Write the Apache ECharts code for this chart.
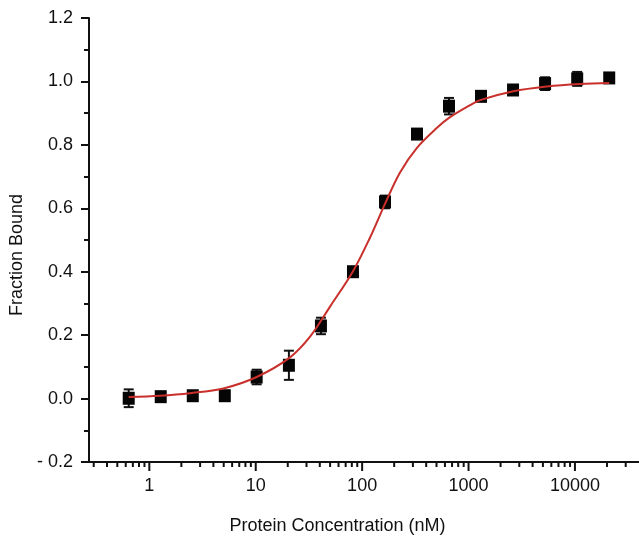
<!DOCTYPE html>
<html>
<head>
<meta charset="utf-8">
<script src="https://cdn.jsdelivr.net/npm/echarts@6/dist/echarts.min.js"></script>
<style>html,body{margin:0;padding:0;background:#fff;}#chart{width:639px;height:540px;}</style>
</head>
<body>
<div id="chart"></div>
<script>
// ---- data ----
const conc = [0.64, 1.28, 2.56, 5.12, 10.2, 20.5, 41, 82, 164, 328, 655, 1310, 2620, 5240, 10500, 21000];
const fraction = [0.001, 0.006, 0.009, 0.009, 0.068, 0.105, 0.229, 0.40, 0.62, 0.834, 0.922, 0.953, 0.973, 0.993, 1.008, 1.011];
const fractionErr = [0.028, 0.005, 0.005, 0.004, 0.023, 0.046, 0.026, 0.008, 0.02, 0.012, 0.026, 0.008, 0.012, 0.02, 0.022, 0.015];

const fitConc = [0.64, 1.26, 2.41, 4.97, 10.2, 21.0, 32.4, 49.9, 81.6, 118.7, 164, 227, 326, 502, 655, 1033, 1283, 2637, 5430, 11170, 21000];
const fitFraction = [0.005, 0.009, 0.017, 0.032, 0.068, 0.13, 0.195, 0.29, 0.40, 0.508, 0.614, 0.713, 0.79, 0.853, 0.885, 0.925, 0.941, 0.969, 0.984, 0.992, 0.995];

const xMajorTicks = [1, 10, 100, 1000, 10000];
const xMinorTicks = [0.3, 0.4, 0.5, 0.6, 0.7, 0.8, 0.9,
  2, 3, 4, 5, 6, 7, 8, 9,
  20, 30, 40, 50, 60, 70, 80, 90,
  200, 300, 400, 500, 600, 700, 800, 900,
  2000, 3000, 4000, 5000, 6000, 7000, 8000, 9000,
  20000, 30000];

const xTitle = 'Protein Concentration (nM)';
const yTitle = 'Fraction Bound';
const yMin = -0.2, yMax = 1.2, yStep = 0.2;
const xMin = 0.271, xMax = 40000;

// ---- chart ----
const FONT = 'Liberation Sans, Arial, Helvetica, sans-serif';
const INK = '#111111';
const chart = echarts.init(document.getElementById('chart'), null, {renderer: 'canvas'});

const tickData = xMajorTicks.map(v => [v, yMin, 1]).concat(xMinorTicks.map(v => [v, yMin, 0]));

chart.setOption({
  animation: false,
  backgroundColor: '#ffffff',
  grid: {left: 89, right: 0, top: 18, bottom: 72, containLabel: false},
  xAxis: {
    type: 'log', logBase: 10, min: xMin, max: xMax,
    name: xTitle, nameLocation: 'middle', nameGap: 55,
    nameTextStyle: {fontFamily: FONT, fontSize: 18, color: INK, padding: [0, 53, 0, 0]},
    axisLine: {show: true, onZero: false, lineStyle: {color: INK, width: 2}},
    axisTick: {show: false},
    minorTick: {show: false},
    splitLine: {show: false},
    axisLabel: {
      fontFamily: FONT, fontSize: 18, color: INK, margin: 15,
      showMinLabel: false, showMaxLabel: false,
      formatter: function (v) {
        const l = Math.log10(v);
        if (Math.abs(l - Math.round(l)) < 1e-6) return String(Math.round(v));
        return '';
      }
    }
  },
  yAxis: {
    type: 'value', min: yMin, max: yMax, interval: yStep,
    name: yTitle, nameLocation: 'middle', nameGap: 50,
    nameTextStyle: {fontFamily: FONT, fontSize: 18, color: INK, padding: [0, 30, 0, 0]},
    axisLine: {show: true, onZero: false, lineStyle: {color: INK, width: 2}},
    axisTick: {show: true, inside: false, length: 8, lineStyle: {color: INK, width: 2}},
    minorTick: {show: true, splitNumber: 2, length: 5, lineStyle: {color: INK, width: 2}},
    splitLine: {show: false},
    axisLabel: {
      fontFamily: FONT, fontSize: 18, color: INK, margin: 16,
      formatter: function (v) {
        if (v < -1e-9) return '- ' + Math.abs(v).toFixed(1);
        return Math.abs(v).toFixed(1);
      }
    }
  },
  series: [
    {
      type: 'custom', name: 'xticks', clip: false, silent: true, z: 5,
      data: tickData, encode: {x: 0, y: 1},
      renderItem: function (params, api) {
        const p = api.coord([api.value(0), api.value(1)]);
        const len = api.value(2) ? 9 : 5;
        return {type: 'line', shape: {x1: p[0], y1: p[1], x2: p[0], y2: p[1] + len},
          style: {stroke: INK, lineWidth: 2}};
      }
    },
    {
      type: 'custom', name: 'errors', clip: false, silent: true, z: 2,
      data: conc.map((c, i) => [c, fraction[i], fractionErr[i]]), encode: {x: 0, y: 1},
      renderItem: function (params, api) {
        const x = api.value(0), y = api.value(1), e = api.value(2);
        const t = api.coord([x, y + e]), b = api.coord([x, y - e]);
        const hw = 5;
        const st = {stroke: '#111', lineWidth: 2};
        return {type: 'group', children: [
          {type: 'line', shape: {x1: t[0], y1: t[1], x2: b[0], y2: b[1]}, style: st},
          {type: 'line', shape: {x1: t[0] - hw, y1: t[1], x2: t[0] + hw, y2: t[1]}, style: st},
          {type: 'line', shape: {x1: b[0] - hw, y1: b[1], x2: b[0] + hw, y2: b[1]}, style: st}
        ]};
      }
    },
    {
      type: 'scatter', name: 'data', z: 3,
      symbol: 'rect', symbolSize: [12, 13],
      itemStyle: {color: '#050505', opacity: 1},
      emphasis: {disabled: true},
      data: conc.map((c, i) => [c, fraction[i]])
    },
    {
      type: 'line', name: 'fit', z: 4, smooth: 0.35, showSymbol: false, symbol: 'none',
      lineStyle: {color: '#c9302c', width: 2},
      data: fitConc.map((c, i) => [c, fitFraction[i]])
    }
  ]
});
</script>
</body>
</html>
